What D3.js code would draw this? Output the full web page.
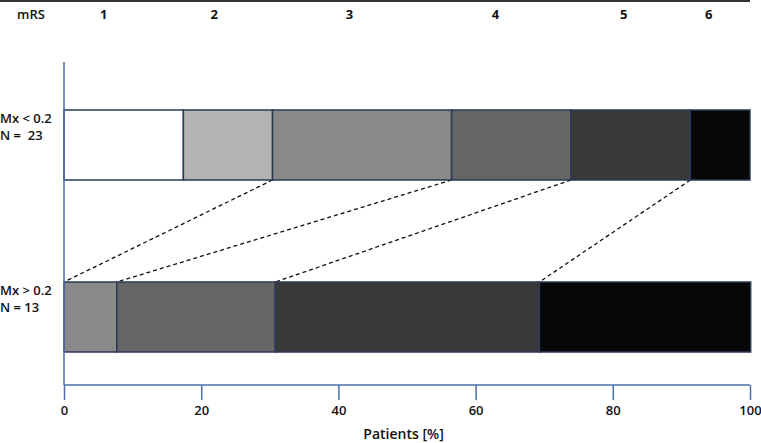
<!DOCTYPE html>
<html>
<head>
<meta charset="utf-8">
<script src="https://cdn.jsdelivr.net/npm/d3@7"></script>
<style>
  body { margin: 0; background: #fff; }
  svg { display: block; font-family: "Open Sans", "Noto Sans", sans-serif; }
</style>
</head>
<body>
<svg id="chart" width="761" height="443"></svg>
<script>
// mRS categories and colours of each category
const mrsLabels = ["1", "2", "3", "4", "5", "6"];
const mrsColors = ["#ffffff", "#b3b3b3", "#898989", "#656565", "#393939", "#070707"];

// groups (two text lines each) and share of patients per mRS class, in %
const groupLines = [["Mx < 0.2", "N =  23"], ["Mx > 0.2", "N = 13"]];
const lowGroup = [17.4, 13.0, 26.1, 17.4, 17.4, 8.7];
const highGroup = [0, 0, 7.7, 23.1, 38.5, 30.8];
const groups = [lowGroup, highGroup];

// header positions of the mRS labels, in % of the axis
const headerPos = [5.8, 21.9, 41.6, 62.9, 81.6, 94.0];
const xTicks = [0, 20, 40, 60, 80, 100];

const svg = d3.select("#chart");
const x = d3.scaleLinear().domain([0, 100]).range([64, 750]);
const y = d3.scaleBand().domain([0, 1]).range([110, 352]).paddingInner(0.593);

// ligne du haut et en-tête mRS
svg.append("line")
  .attr("x1", 0).attr("x2", 750).attr("y1", 1).attr("y2", 1)
  .attr("stroke", "#333").attr("stroke-width", 2);

svg.append("text")
  .attr("x", 17).attr("y", 19)
  .attr("font-size", 13).attr("font-weight", 600).attr("fill", "#111")
  .text("mRS");

svg.selectAll(".hdr")
  .data(mrsLabels)
  .join("text")
  .attr("class", "hdr")
  .attr("x", (d, i) => x(headerPos[i]))
  .attr("y", 19)
  .attr("text-anchor", "middle")
  .attr("font-size", 13)
  .attr("font-weight", "bold")
  .attr("fill", "#111")
  .text((d) => d);

// cumulated bounds for each group
const stacks = groups.map((vals) => {
  let acc = 0;
  return vals.map((v, i) => {
    const s = { start: acc, end: acc + v, color: mrsColors[i] };
    acc += v;
    return s;
  });
});

// lignes pointillées entre les barres (fin de mRS 2 à 5)
[1, 2, 3, 4].forEach((k) => {
  svg.append("line")
    .attr("x1", x(stacks[0][k].end))
    .attr("y1", y(0) + y.bandwidth())
    .attr("x2", x(stacks[1][k].end))
    .attr("y2", y(1))
    .attr("stroke", "#111")
    .attr("stroke-width", 1.3)
    .attr("stroke-dasharray", "4,3");
});

// barres empilées
stacks.forEach((segs, g) => {
  svg.selectAll(".seg" + g)
    .data(segs.filter((s) => s.end > s.start))
    .join("rect")
    .attr("class", "seg" + g)
    .attr("x", (d) => x(d.start))
    .attr("y", y(g))
    .attr("width", (d) => x(d.end) - x(d.start))
    .attr("height", y.bandwidth())
    .attr("fill", (d) => d.color)
    .attr("stroke", "#2b3a58")
    .attr("stroke-width", 1.5);

  const lab = svg.append("text")
    .attr("x", 0)
    .attr("y", y(g) + 13)
    .attr("font-size", 13)
    .attr("font-weight", 600)
    .attr("fill", "#111");
  groupLines[g].forEach((t, j) => {
    lab.append("tspan")
      .attr("x", 0)
      .attr("dy", j === 0 ? 0 : 17)
      .attr("xml:space", "preserve")
      .style("white-space", "pre")
      .text(t);
  });
});

// axe vertical
svg.append("line")
  .attr("x1", 64).attr("x2", 64).attr("y1", 62).attr("y2", 385)
  .attr("stroke", "#4a6ea8").attr("stroke-width", 1.5);

// axe horizontal
const xAxis = svg.append("g")
  .attr("transform", "translate(0,385)")
  .call(d3.axisBottom(x).tickValues(xTicks).tickSize(15).tickPadding(6));
xAxis.select(".domain")
  .attr("stroke", "#4a6ea8").attr("stroke-width", 1.5)
  .attr("d", "M64,0H750");
xAxis.selectAll(".tick line").attr("stroke", "#4a6ea8").attr("stroke-width", 1.5);
xAxis.selectAll(".tick text")
  .attr("font-size", 13)
  .attr("font-weight", 600)
  .attr("font-family", "'Open Sans', sans-serif")
  .attr("fill", "#111");

svg.append("text")
  .attr("x", x(49.5))
  .attr("y", 439)
  .attr("text-anchor", "middle")
  .attr("font-size", 14)
  .attr("font-weight", 600)
  .attr("fill", "#111")
  .text("Patients [%]");
</script>
</body>
</html>
